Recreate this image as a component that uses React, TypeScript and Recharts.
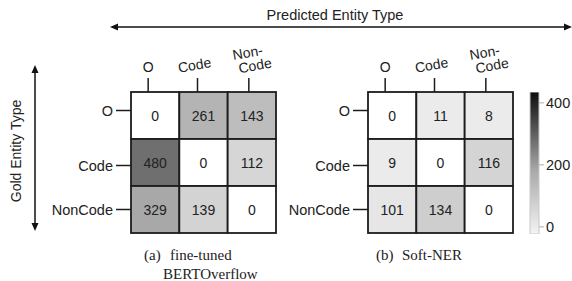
import React from "react";
import { ScatterChart, Scatter, XAxis, YAxis, BarChart, Bar } from "recharts";

// ---- data ----
const predictedTypes = ["O", "Code", "Non-Code"];
const goldTypes = ["O", "Code", "NonCode"];
const bertOverflowCounts = [
  [0, 261, 143],
  [480, 0, 112],
  [329, 139, 0],
];
const softNerCounts = [
  [0, 11, 8],
  [9, 0, 116],
  [101, 134, 0],
];
// grey level of each cell (0-255)
const bertOverflowShades = [
  [255, 180, 189],
  [111, 255, 214],
  [168, 211, 255],
];
const softNerShades = [
  [255, 235, 235],
  [235, 255, 212],
  [230, 206, 255],
];
const colorbarTicks = [0, 200, 400];
const colorbarDomain = [-23, 435];

// ---- layout ----
const W = 572;
const H = 281;
const PLOT_TOP = 92;
const PLOT_BOTTOM = 233;
const LEFT_X0 = 131;
const LEFT_X1 = 276;
const RIGHT_X0 = 368;
const RIGHT_X1 = 513;
const CELL_W = (LEFT_X1 - LEFT_X0) / 3;
const CELL_H = (PLOT_BOTTOM - PLOT_TOP) / 3;
const COL_TICK_DX = [-7, -6, -3];
const ROW_TICK_DY = [-5, 3, 0];
const SANS = "'Liberation Sans', Arial, Helvetica, sans-serif";
const SERIF = "'Liberation Serif', 'Times New Roman', serif";
const INK = "#1c1c1c";

const toCells = (counts: number[][], shades: number[][]) => {
  const out: any[] = [];
  counts.forEach((row, r) =>
    row.forEach((v, c) => out.push({ col: c, row: r, v, shade: shades[r][c] }))
  );
  return out;
};

const CellShape = (props: any) => {
  const { cx, cy, payload } = props;
  const g = payload.shade;
  return (
    <g>
      <rect
        x={cx - CELL_W / 2}
        y={cy - CELL_H / 2}
        width={CELL_W}
        height={CELL_H}
        fill={`rgb(${g},${g},${g})`}
        stroke={INK}
        strokeWidth={1.8}
      />
      <text
        x={cx}
        y={cy}
        textAnchor="middle"
        dominantBaseline="central"
        fontFamily={SANS}
        fontSize={14}
        fill="#222"
      >
        {payload.v}
      </text>
    </g>
  );
};

const TopTick = (props: any) => {
  const { x, payload, index } = props;
  const label = predictedTypes[payload.value];
  const lx = x + COL_TICK_DX[index];
  const line = (
    <line x1={lx} x2={lx} y1={PLOT_TOP - 14} y2={PLOT_TOP} stroke={INK} strokeWidth={1.5} />
  );
  const common = { fontFamily: SANS, fontSize: 14, fill: "#222", textAnchor: "middle" as const };
  if (index === 0) {
    return (
      <g>
        {line}
        <text x={lx} y={67} dominantBaseline="central" {...common}>
          {label}
        </text>
      </g>
    );
  }
  if (label.includes("-")) {
    const [a, b] = label.split("-");
    return (
      <g>
        {line}
        <g transform={`translate(${lx + 2},${59}) rotate(-10)`}>
          <text x={-2} y={-7} dominantBaseline="central" {...common}>
            {a + "-"}
          </text>
          <text x={3} y={7} dominantBaseline="central" {...common}>
            {b}
          </text>
        </g>
      </g>
    );
  }
  return (
    <g>
      {line}
      <g transform={`translate(${lx - 3},${65}) rotate(-10)`}>
        <text x={0} y={0} dominantBaseline="central" {...common}>
          {label}
        </text>
      </g>
    </g>
  );
};

const makeLeftTick = (plotLeft: number) => (props: any) => {
  const { y, payload, index } = props;
  const ly = y + ROW_TICK_DY[index];
  return (
    <g>
      <line x1={plotLeft - 15} x2={plotLeft} y1={ly} y2={ly} stroke={INK} strokeWidth={1.5} />
      <text
        x={plotLeft - 18}
        y={ly}
        textAnchor="end"
        dominantBaseline="central"
        fontFamily={SANS}
        fontSize={14.5}
        fill="#222"
      >
        {goldTypes[payload.value]}
      </text>
    </g>
  );
};

const Matrix = ({ x0, x1, counts, shades }: any) => {
  const yAxisW = 60;
  const xAxisH = 30;
  const data = toCells(counts, shades);
  return (
    <div style={{ position: "absolute", left: 0, top: 0 }}>
      <ScatterChart
        width={W}
        height={H}
        margin={{ top: PLOT_TOP - xAxisH, bottom: H - PLOT_BOTTOM, left: x0 - yAxisW, right: W - x1 }}
      >
        <XAxis
          type="number"
          dataKey="col"
          orientation="top"
          domain={[-0.5, 2.5]}
          ticks={[0, 1, 2]}
          height={xAxisH}
          axisLine={false}
          tickLine={false}
          tick={<TopTick />}
          interval={0}
        />
        <YAxis
          type="number"
          dataKey="row"
          reversed
          domain={[-0.5, 2.5]}
          ticks={[0, 1, 2]}
          width={yAxisW}
          axisLine={false}
          tickLine={false}
          tick={makeLeftTick(x0)}
          interval={0}
        />
        <Scatter data={data} shape={<CellShape />} isAnimationActive={false} />
      </ScatterChart>
    </div>
  );
};

const Colorbar = () => {
  const data = [{ name: "scale", range: colorbarDomain }];
  return (
    <div style={{ position: "absolute", left: 0, top: 0 }}>
      <BarChart
        width={W}
        height={H}
        data={data}
        margin={{ top: PLOT_TOP, bottom: H - 234, left: 530, right: 0 }}
        barCategoryGap={0}
      >
        <defs>
          <linearGradient id="cbar" x1="0" y1="1" x2="0" y2="0">
            <stop offset="0%" stopColor="#f4f4f4" />
            <stop offset="45%" stopColor="#a8a8a8" />
            <stop offset="100%" stopColor="#0c0c0c" />
          </linearGradient>
        </defs>
        <XAxis dataKey="name" hide />
        <YAxis
          orientation="right"
          type="number"
          domain={colorbarDomain}
          ticks={colorbarTicks}
          width={33}
          axisLine={false}
          tickSize={5}
          tickLine={{ stroke: "#b0b0b0" }}
          tick={{ fontFamily: SANS, fontSize: 14.5, fill: "#222", textAnchor: "start" }}
          tickMargin={2}
          interval={0}
          allowDataOverflow
        />
        <Bar
          dataKey="range"
          fill="url(#cbar)"
          stroke="#c8c8c8"
          strokeWidth={1}
          isAnimationActive={false}
        />
      </BarChart>
    </div>
  );
};

const Arrowhead = ({ x, y, dir }: any) => {
  const s = 8;
  const w = 3.5;
  let pts = "";
  if (dir === "left") pts = `${x},${y} ${x + s},${y - w} ${x + s},${y + w}`;
  if (dir === "right") pts = `${x},${y} ${x - s},${y - w} ${x - s},${y + w}`;
  if (dir === "up") pts = `${x},${y} ${x - w},${y + s} ${x + w},${y + s}`;
  if (dir === "down") pts = `${x},${y} ${x - w},${y - s} ${x + w},${y - s}`;
  return <polygon points={pts} fill="#111" />;
};

export default function App() {
  return (
    <div style={{ position: "absolute", left: 0, top: 0, width: W, height: H, background: "#fff", overflow: "hidden" }}>
      <Matrix x0={LEFT_X0} x1={LEFT_X1} counts={bertOverflowCounts} shades={bertOverflowShades} />
      <Matrix x0={RIGHT_X0} x1={RIGHT_X1} counts={softNerCounts} shades={softNerShades} />
      <Colorbar />
      <svg width={W} height={H} style={{ position: "absolute", left: 0, top: 0 }}>
        <text x={335} y={15} textAnchor="middle" dominantBaseline="central" fontFamily={SANS} fontSize={14.5} fill="#222">
          Predicted Entity Type
        </text>
        <line x1={112} x2={570} y1={27} y2={27} stroke="#111" strokeWidth={1.5} />
        <Arrowhead x={110} y={27} dir="left" />
        <Arrowhead x={572} y={27} dir="right" />
        <text
          transform="translate(16,151) rotate(-90)"
          textAnchor="middle"
          dominantBaseline="central"
          fontFamily={SANS}
          fontSize={14}
          fill="#222"
        >
          Gold Entity Type
        </text>
        <line x1={35} x2={35} y1={67} y2={228} stroke="#111" strokeWidth={1.5} />
        <Arrowhead x={35} y={65} dir="up" />
        <Arrowhead x={35} y={231} dir="down" />
        <text x={144} y={255} dominantBaseline="central" fontFamily={SERIF} fontSize={15} fill="#222">
          (a)
          <tspan x={170}>fine-tuned</tspan>
        </text>
        <text x={163} y={274} dominantBaseline="central" fontFamily={SERIF} fontSize={15} fill="#222">
          BERTOverflow
        </text>
        <text x={376} y={255} dominantBaseline="central" fontFamily={SERIF} fontSize={15} fill="#222">
          (b)
          <tspan x={402}>Soft-NER</tspan>
        </text>
      </svg>
    </div>
  );
}
